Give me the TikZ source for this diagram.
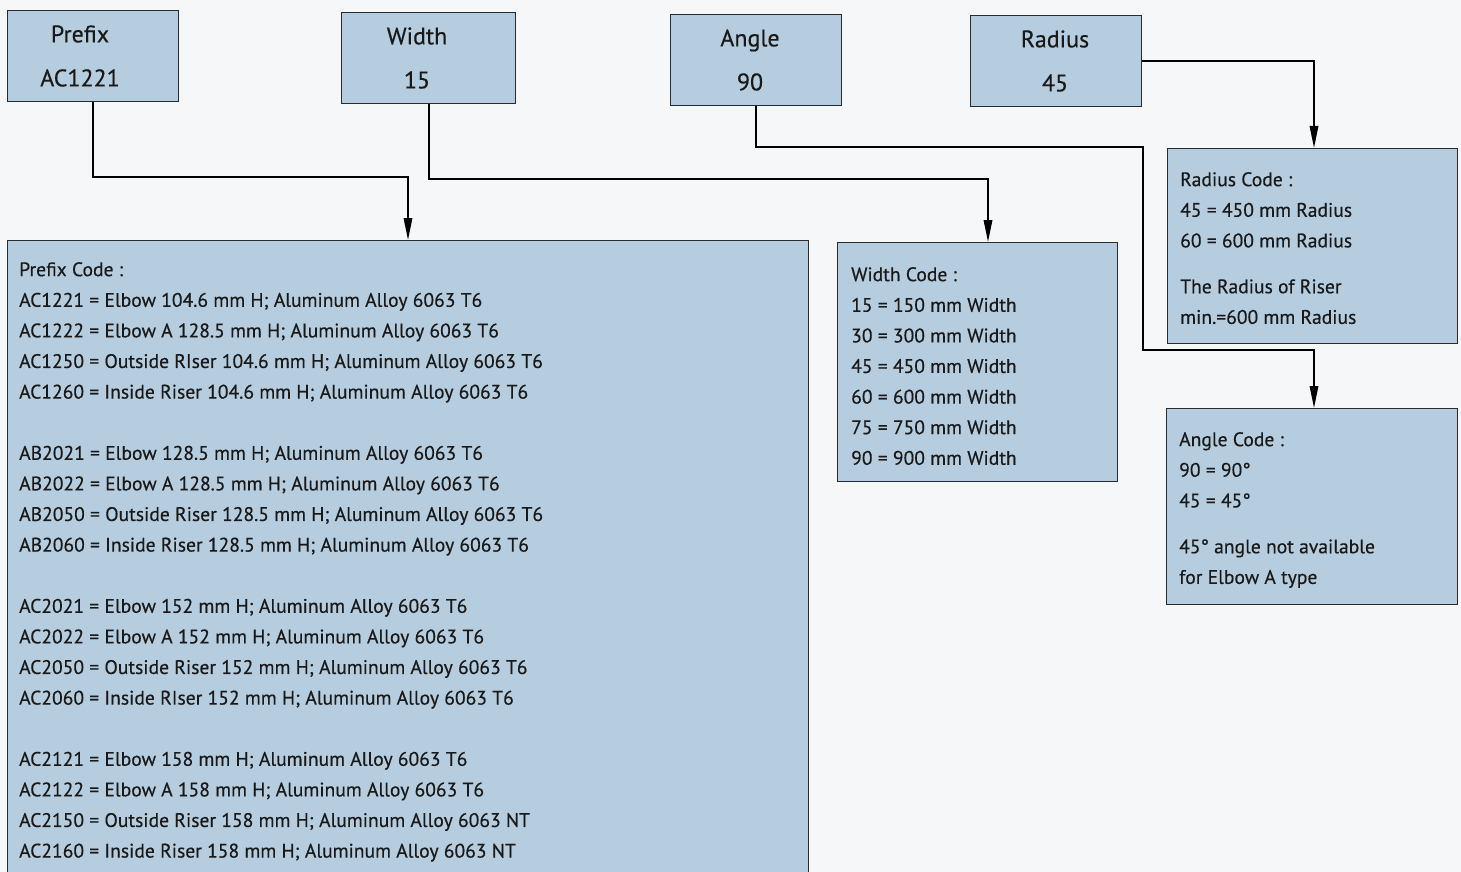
\documentclass[tikz,border=0pt]{standalone}
\usepackage{fontspec}
\setmainfont{PT Sans}[FakeBold=0.4]
\usetikzlibrary{arrows.meta}
\definecolor{boxfill}{RGB}{182,205,224}
\definecolor{bgcol}{RGB}{246,247,248}
\definecolor{edge}{RGB}{40,44,50}
\tikzset{
  topbox/.style={draw=edge, line width=1.4pt, fill=boxfill, anchor=north west, inner sep=0pt},
  toplabel/.style={inner sep=0pt, align=center, font=\fontsize{24}{44}\selectfont, text=black!90},
  codebox/.style={draw=edge, line width=1.4pt, fill=boxfill, anchor=north west, inner sep=0pt},
  codetext/.style={anchor=north west, inner sep=0pt, align=left, font=\fontsize{19.6}{30.6}\selectfont, text=black!90},
  conn/.style={draw=black, line width=1.7pt, -{Triangle[length=22pt,width=8.5pt]}}
}
\begin{document}
\begin{tikzpicture}[x=1pt,y=-1pt]
\fill[bgcol] (0,0) rectangle (1461,872);
\useasboundingbox (0,0) rectangle (1461,872);

% top boxes
\node[topbox, minimum width=171pt, minimum height=91pt] (prefix) at (7,10) {};
\node[topbox, minimum width=174pt, minimum height=91pt] (width) at (341,12) {};
\node[topbox, minimum width=171pt, minimum height=91pt] (angle) at (670,14) {};
\node[topbox, minimum width=171pt, minimum height=91pt] (radius) at (970,15) {};
\node[toplabel] (prefixlbl) at (80,56) {Prefix\\AC1221};
\node[toplabel] (widthlbl) at (417,58) {Width\\15};
\node[toplabel] (anglelbl) at (750,60) {Angle\\90};
\node[toplabel] (radiuslbl) at (1055,61) {Radius\\45};

% code boxes
\node[codebox, minimum width=801pt, minimum height=640pt] (prefixbox) at (7,240) {};
\node[codebox, minimum width=280pt, minimum height=239pt] (widthbox) at (837,242) {};
\node[codebox, minimum width=290pt, minimum height=195pt] (radiusbox) at (1167,148) {};
\node[codebox, minimum width=291pt, minimum height=196pt] (anglebox) at (1166,408) {};

% texts
\node[codetext] (prefixtxt) at (19,262) {Prefix Code :\\
AC1221 = Elbow 104.6 mm H; Aluminum Alloy 6063 T6\\
AC1222 = Elbow A 128.5 mm H; Aluminum Alloy 6063 T6\\
AC1250 = Outside RIser 104.6 mm H; Aluminum Alloy 6063 T6\\
AC1260 = Inside Riser 104.6 mm H; Aluminum Alloy 6063 T6\\[30.6pt]
AB2021 = Elbow 128.5 mm H; Aluminum Alloy 6063 T6\\
AB2022 = Elbow A 128.5 mm H; Aluminum Alloy 6063 T6\\
AB2050 = Outside Riser 128.5 mm H; Aluminum Alloy 6063 T6\\
AB2060 = Inside Riser 128.5 mm H; Aluminum Alloy 6063 T6\\[30.6pt]
AC2021 = Elbow 152 mm H; Aluminum Alloy 6063 T6\\
AC2022 = Elbow A 152 mm H; Aluminum Alloy 6063 T6\\
AC2050 = Outside Riser 152 mm H; Aluminum Alloy 6063 T6\\
AC2060 = Inside RIser 152 mm H; Aluminum Alloy 6063 T6\\[30.6pt]
AC2121 = Elbow 158 mm H; Aluminum Alloy 6063 T6\\
AC2122 = Elbow A 158 mm H; Aluminum Alloy 6063 T6\\
AC2150 = Outside Riser 158 mm H; Aluminum Alloy 6063 NT\\
AC2160 = Inside Riser 158 mm H; Aluminum Alloy 6063 NT};

\node[codetext] (widthtxt) at (851,267) {Width Code :\\
15 = 150 mm Width\\
30 = 300 mm Width\\
45 = 450 mm Width\\
60 = 600 mm Width\\
75 = 750 mm Width\\
90 = 900 mm Width};

\node[codetext] (radiustxt) at (1180,172) {Radius Code :\\
45 = 450 mm Radius\\
60 = 600 mm Radius\\[15.3pt]
The Radius of Riser\\
min.=600 mm Radius};

\node[codetext] (angletxt) at (1179,432) {Angle Code :\\
90 = 90°\\
45 = 45°\\[15.3pt]
45° angle not available\\
for Elbow A type};

% connectors
\draw[conn] (prefix.south) |- (408,177) -- (408,0 |- prefixbox.north);
\draw[conn] (width.south) |- (988,179) -- (988,0 |- widthbox.north);
\draw[conn] (angle.south) |- (1143,147) |- (1314,350) -- (1314,0 |- anglebox.north);
\draw[conn] (radius.east) -| (1314,0 |- radiusbox.north);
\end{tikzpicture}
\end{document}
